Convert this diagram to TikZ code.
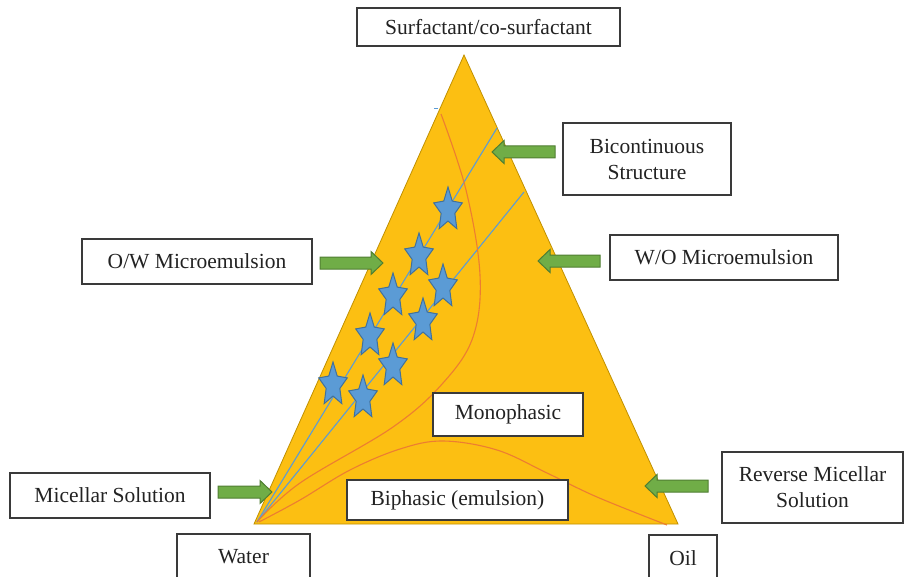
\documentclass[tikz,border=0pt]{standalone}
\usepackage{fontspec}
\setmainfont{Liberation Serif}
\definecolor{trifill}{HTML}{FCBF12}
\definecolor{triedge}{HTML}{C09000}
\definecolor{gfill}{HTML}{70AD47}
\definecolor{gedge}{HTML}{507E32}
\definecolor{bfill}{HTML}{5B9BD5}
\definecolor{bedge}{HTML}{41719C}
\definecolor{oline}{HTML}{ED7D31}
\definecolor{boxgray}{HTML}{3A3A3A}
\definecolor{txt}{HTML}{222222}
\begin{document}
\begin{tikzpicture}[x=1pt,y=-1pt,
  box/.style={draw=boxgray, line width=1.2pt, fill=white, align=center, text=txt,
    font=\fontsize{21.5}{26}\selectfont, inner sep=0pt},
  tri/.style={fill=trifill, draw=triedge, line width=0.8pt, line join=miter},
  bline/.style={draw=bfill, line width=1.1pt},
  orline/.style={draw=oline, line width=1.1pt},
  arrowst/.style={fill=gfill, draw=gedge, line width=1pt, line join=miter},
  starst/.style={fill=bfill, draw=bedge, line width=1pt, line join=miter},
  pics/garrow/.style={code={\draw[arrowst] (0,0) -- (12,-11.5) -- (12,-6) -- (#1,-6) -- (#1,6) -- (12,6) -- (12,11.5) -- cycle;}},
  pics/bstar/.style={code={\draw[starst] plot[samples at={0,...,9}] ({15*(1-0.52*mod(\x,2))*cos(90+36*\x)}, {-23*(1-0.52*mod(\x,2))*sin(90+36*\x)}) -- cycle;}}
]
\clip (0,0) rectangle (904,577);
\useasboundingbox (0,0) rectangle (904,577);

% triangle
\coordinate (apex) at (464,55);
\coordinate (wv) at (254,524);
\coordinate (ov) at (678,524);
\draw[tri] (apex) -- (wv) -- (ov) -- cycle;

% blue composition lines
\coordinate (w0) at (257,522);
\coordinate (la) at (497,128);
\coordinate (lb) at (524,192);
\draw[bline] (w0) -- (la);
\draw[bline] (w0) -- (lb);
\coordinate (d1) at (434,108);
\coordinate (d2) at (438,108);
\draw[bfill, line width=0.8pt] (d1) -- (d2);

% orange phase boundaries
\draw[orline] plot[smooth, tension=0.6] coordinates {(441,114) (466,190) (480,275) (473,337) (443,383) (393,427) (300,483) (257,522)};
\draw[orline] plot[smooth, tension=0.6] coordinates {(259,522) (300,500) (350,470) (400,449) (443,441) (497,450) (547,473) (597,497) (667,525)};

% stars
\foreach \sx/\sy in {448/210, 419/256, 443/287, 393/296, 423/321, 370/336, 393/366, 333/385, 363/398}
  \pic at (\sx,\sy) {bstar};

% boxes
\node[box, minimum width=263pt, minimum height=38pt] (surf) at (488.5,27) {Surfactant/co-surfactant};
\node[box, minimum width=168pt, minimum height=72pt] (bic) at (647,159) {Bicontinuous\\Structure};
\node[box, minimum width=228pt, minimum height=45pt] (wo) at (724,257.5) {W/O Microemulsion};
\node[box, minimum width=230pt, minimum height=45pt] (ow) at (197,261.5) {O/W Microemulsion};
\node[box, minimum width=200pt, minimum height=45pt] (mic) at (110,495.5) {Micellar Solution};
\node[box, minimum width=181pt, minimum height=71pt] (rev) at (812.5,487.5) {Reverse Micellar\\Solution};
\node[box, minimum width=150pt, minimum height=43pt] (mono) at (508,414.5) {Monophasic};
\node[box, minimum width=221pt, minimum height=40pt] (bi) at (457.5,500) {Biphasic (emulsion)};
\node[box, minimum width=133pt, minimum height=46pt] (water) at (243.5,557) {Water};
\node[box, minimum width=68pt, minimum height=46pt] (oil) at (683,558) {Oil};

% green block arrows
\pic at (492,152) {garrow=63};
\pic at (538,261) {garrow=62};
\pic at (645,486) {garrow=63};
\pic[xscale=-1] at (383,263) {garrow=63};
\pic[xscale=-1] at (272,492) {garrow=54};
\end{tikzpicture}
\end{document}
